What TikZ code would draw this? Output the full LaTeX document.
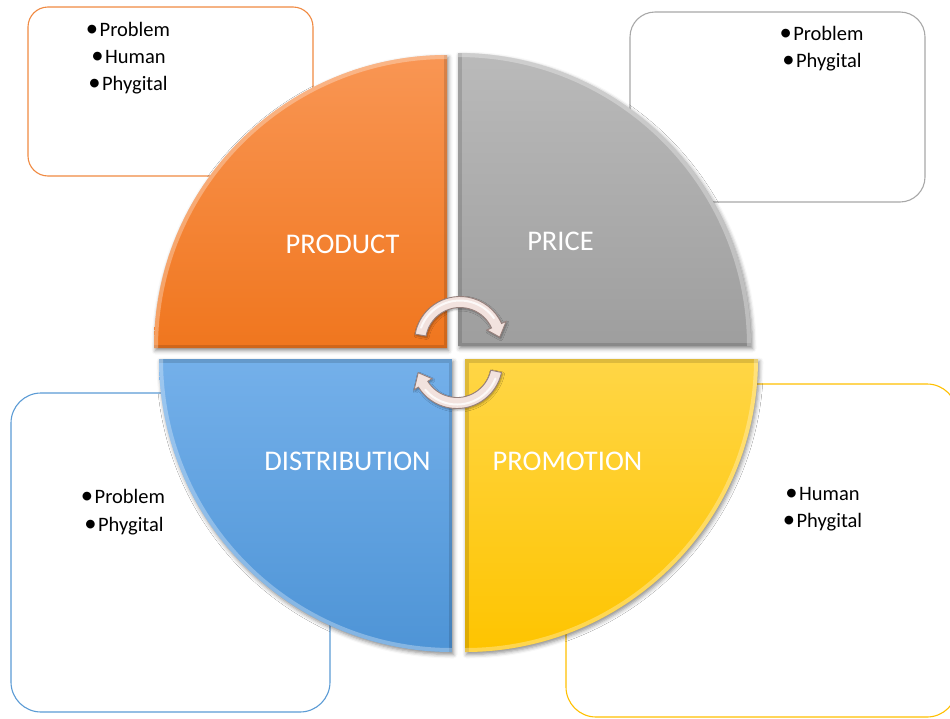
\documentclass[tikz,border=0pt]{standalone}
\usepackage{fontspec}
\setmainfont{Carlito}
\usetikzlibrary{shadows.blur}

% quadrant fills
\definecolor{prodtop}{RGB}{249,150,84}
\definecolor{prodbot}{RGB}{240,118,30}
\definecolor{pricetop}{RGB}{186,186,186}
\definecolor{pricebot}{RGB}{158,158,158}
\definecolor{disttop}{RGB}{116,176,234}
\definecolor{distbot}{RGB}{78,148,214}
\definecolor{promotop}{RGB}{255,214,70}
\definecolor{promobot}{RGB}{254,196,0}
% note frames
\definecolor{prodline}{RGB}{240,138,66}
\definecolor{priceline}{RGB}{168,168,168}
\definecolor{distline}{RGB}{91,155,213}
\definecolor{promoline}{RGB}{255,192,0}
% cycle arrows
\definecolor{arrowfill}{RGB}{242,226,222}
\definecolor{arrowedge}{RGB}{150,128,124}

\tikzset{
  notebox/.style={draw, line width=1.1pt, fill=white, inner sep=0pt},
  bullettext/.style={anchor=base, inner sep=0pt, text=black,
    font=\fontsize{20.5}{25}\selectfont},
  quadlabel/.style={anchor=base, inner sep=0pt, text=white,
    font=\fontsize{28.5}{34}\selectfont},
  petalshadow/.style={blur shadow={shadow xshift=1.5pt, shadow yshift=-2.5pt,
    shadow blur radius=4pt, shadow opacity=45}},
  cyclearrow/.style={draw=arrowedge, line width=0.9pt, fill=arrowfill,
    blur shadow={shadow xshift=1pt, shadow yshift=-1.5pt,
    shadow blur radius=2pt, shadow opacity=35}},
}

% bullet mark in front of a note line
\newcommand{\bul}{\raisebox{-0.3pt}{\scalebox{1.2}{•}}\hspace{1.5pt}}

% one quarter of the disc: #1,#2 corner, #3 start angle, #4 end angle,
% #5 top colour, #6 bottom colour
\newcommand{\petal}[6]{%
  \path[petalshadow, top color=#5, bottom color=#6]
    (#1,#2) -- ++(#3:293) arc[start angle=#3, end angle=#4, radius=293] -- cycle;
  \begin{scope}
    \clip (#1,#2) -- ++(#3:293) arc[start angle=#3, end angle=#4, radius=293] -- cycle;
    \draw[black, opacity=.13, line width=7pt]
      (#1,#2) ++(#3:293) -- (#1,#2) -- ++(#4:293);
    \draw[white, opacity=.30, line width=8pt]
      (#1,#2) ++(#3:293) arc[start angle=#3, end angle=#4, radius=293];
  \end{scope}
}

\begin{document}
\begin{tikzpicture}[x=1pt, y=-1pt]
\useasboundingbox (0,0) rectangle (950,718);
\clip (0,0) rectangle (950,718);

% note frames behind the disc
\node[notebox, draw=prodline, rounded corners=20pt,
      minimum width=285pt, minimum height=169pt] (prodbox) at (170.5,91.5) {};
\node[notebox, draw=priceline, rounded corners=25pt,
      minimum width=295pt, minimum height=190pt] (pricebox) at (777.5,107) {};
\node[notebox, draw=distline, rounded corners=30pt,
      minimum width=319pt, minimum height=319pt] (distbox) at (170.5,552.5) {};
\node[notebox, draw=promoline, rounded corners=30pt,
      minimum width=391pt, minimum height=333pt] (promobox) at (761.5,550.5) {};

% the four quarters
\petal{447}{348}{180}{270}{prodtop}{prodbot}
\petal{458}{346}{270}{360}{pricetop}{pricebot}
\petal{465}{359}{0}{90}{promotop}{promobot}
\petal{452}{359}{90}{180}{disttop}{distbot}

% quarter labels
\node[quadlabel] (product) at (342.5,253) {PRODUCT};
\node[quadlabel] (price) at (560.5,250) {PRICE};
\node[quadlabel] (distribution) at (347.5,470) {DISTRIBUTION};
\node[quadlabel] (promotion) at (567.5,470) {PROMOTION};

% cycle arrows in the middle
\begin{scope}[shift={(460,342)}]
  \path[cyclearrow] (190:45.5) arc[start angle=190, end angle=336, radius=45.5]
    -- (336:50.5) -- (353:40) -- (336:29.5) -- (336:34.5)
    arc[start angle=336, end angle=190, radius=34.5] -- cycle;
  \draw[white, line width=2pt, line cap=round, opacity=.8]
    (200:41.5) arc[start angle=200, end angle=325, radius=41.5];
  \coordinate (toparrow) at (0,0);
\end{scope}
\begin{scope}[shift={(457,363)}]
  \path[cyclearrow] (12:45.5) arc[start angle=12, end angle=148, radius=45.5]
    -- (148:50.5) -- (166:40) -- (148:29.5) -- (148:34.5)
    arc[start angle=148, end angle=12, radius=34.5] -- cycle;
  \draw[white, line width=2pt, line cap=round, opacity=.8]
    (22:41.5) arc[start angle=22, end angle=140, radius=41.5];
  \coordinate (lowarrow) at (0,0);
\end{scope}

% notes
\node[bullettext] (prod1) at (128,36) {\bul Problem};
\node[bullettext] (prod2) at (128.5,63) {\bul Human};
\node[bullettext] (prod3) at (128,90) {\bul Phygital};

\node[bullettext] (price1) at (821.5,40) {\bul Problem};
\node[bullettext] (price2) at (822,67) {\bul Phygital};

\node[bullettext] (dist1) at (123,503) {\bul Problem};
\node[bullettext] (dist2) at (124,531) {\bul Phygital};

\node[bullettext] (promo1) at (822.5,500) {\bul Human};
\node[bullettext] (promo2) at (822.5,527) {\bul Phygital};
\end{tikzpicture}
\end{document}
